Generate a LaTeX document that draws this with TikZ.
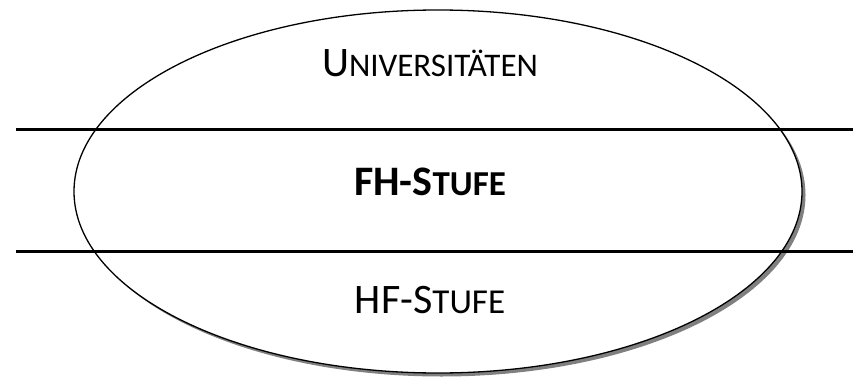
\documentclass[tikz,border=0pt]{standalone}
\usepackage{fontspec}
\setmainfont{Carlito}
\usepackage{tikz}
\usetikzlibrary{shapes,shadows}
\newcommand{\capsize}{\fontsize{42}{44}\selectfont}
\newcommand{\fakeSc}[3]{{\capsize #1}{\fontsize{#3}{40}\selectfont #2}}
\tikzset{
   zone node/.style={ellipse,draw,line width=1.3pt,fill=white,
                     drop shadow={shadow xshift=3.5pt,shadow yshift=-3.5pt,fill=black!50,opacity=1}},
   level line/.style={line width=3pt},
   level label/.style={anchor=base,inner sep=0pt}
}
\begin{document}
\begin{tikzpicture}[x=1pt,y=-1pt]
\useasboundingbox (0,0) rectangle (853,377);

% ellipse
\node[zone node, minimum width=728pt, minimum height=363pt] (zone) at (438,191.5) {};

% levels
\coordinate (l1) at (16,129);
\coordinate (r1) at (853,129);
\coordinate (l2) at (16,251);
\coordinate (r2) at (853,251);
\draw[level line] (l1) -- (r1);
\draw[level line] (l2) -- (r2);

\node[level label] (uni) at (430,77) {\fakeSc{U}{NIVERSITÄTEN}{33}};
\node[level label] (fh) at (430,195) {\bfseries\fakeSc{FH-S}{TUFE}{35}};
\node[level label] (hf) at (430,313) {\fakeSc{HF-S}{TUFE}{35}};
\end{tikzpicture}
\end{document}
